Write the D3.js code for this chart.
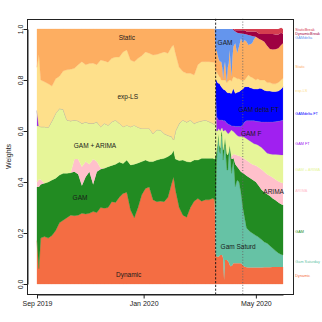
<!DOCTYPE html>
<html><head><meta charset="utf-8">
<script src="https://cdn.jsdelivr.net/npm/d3@7"></script>
<style>
body{margin:0;background:#fff}
svg{display:block}
text{font-family:"Liberation Sans",Arial,Helvetica,sans-serif}
</style>
</head><body>
<svg id="chart" width="322" height="322"></svg>
<script>
// observation index (daily observations, Sep 2019 -> end of May 2020)
const obsIndex = [0,2,4,8,12,16,20,24,28,32,36,40,44,48,52,56,60,64,68,72,76,80,84,88,92,96,100,104,108,112,116,120,124,128,132,136,140,144,146,148,152,156,160,164,168,172,176,180,184,188,190,
191,192,193,194,195,196,197,198,199,200,201,202,203,204,205,206,207,208,209,210,
212,214,216,218,220,222,224,226,228,230,232,234,236,238,240,243,246,249,252,255,258,261,263];

const wDynamic = [.17,.06,.18,.186,.18,.19,.21,.24,.25,.26,.27,.268,.27,.277,.275,.277,.284,.28,.30,.297,.30,.323,.32,.34,.355,.36,.29,.26,.30,.35,.375,.38,.33,.323,.325,.323,.34,.395,.42,.37,.30,.27,.262,.30,.325,.335,.325,.33,.33,.336,.33,
.12,.107,.107,.107,.11,.114,.114,.114,.10,.016,.094,.094,.094,.09,.085,.075,.07,.071,.075,.081,
.081,.081,.081,.081,.075,.068,.066,.065,.065,.065,.065,.065,.065,.065,.065,.066,.066,.066,.067,.067,.067,.067,.067];

const wGamSaturday = [0,0,0,0,0,0,0,0,0,0,0,0,0,0,0,0,0,0,0,0,0,0,0,0,0,0,0,0,0,0,0,0,0,0,0,0,0,0,0,0,0,0,0,0,0,0,0,0,0,0,0,
.18,.379,.433,.471,.41,.398,.466,.466,.386,.504,.471,.406,.353,.357,.415,.463,.41,.363,.385,.405,
.301,.327,.319,.279,.225,.192,.154,.147,.14,.135,.13,.125,.121,.115,.11,.099,.094,.084,.073,.063,.055,.049,.047];

const wGAM = [.21,.32,.21,.209,.22,.218,.205,.187,.184,.174,.166,.172,.16,.108,.145,.163,.106,.16,.15,.157,.16,.142,.15,.138,.118,.126,.177,.21,.175,.13,.111,.10,.15,.163,.165,.17,.16,.115,.105,.12,.184,.216,.218,.178,.161,.151,.168,.163,.163,.157,.16,
.20,.039,.01,.012,.025,.021,.02,.01,.039,.025,.01,.045,.063,.059,.02,.007,.04,.056,.03,.008,
.088,.052,.05,.08,.135,.17,.205,.208,.21,.21,.21,.21,.204,.20,.195,.195,.192,.195,.195,.198,.198,.197,.196];

const wARIMA = [.02,.03,.02,0,0,0,0,0,0,0,0,.05,.06,.075,.06,.03,.10,.04,.005,0,0,0,0,0,0,0,0,0,0,0,0,0,0,0,0,0,0,0,0,0,0,0,0,0,0,0,0,0,0,0,0,
0,0,0,0,0,0,0,0,0,0,0,0,0,0,0,0,0,.01,.015,.016,
.038,.045,.053,.06,.06,.06,.06,.06,.06,.06,.062,.065,.07,.075,.08,.08,.078,.08,.083,.082,.083,.085,.086];

const wGAMARIMA = [.22,.21,.207,.222,.214,.232,.255,.261,.251,.209,.204,.153,.15,.17,.155,.16,.14,.156,.162,.176,.163,.171,.173,.152,.144,.137,.15,.153,.14,.13,.124,.13,.11,.119,.114,.097,.083,.068,.04,.11,.146,.157,.155,.165,.144,.15,.147,.15,.144,.137,.135,
.25,.075,.05,.02,.06,.067,.01,.022,.075,.055,.03,.055,.085,.084,.07,.05,.08,.104,.095,.088,
.082,.077,.075,.078,.083,.085,.085,.085,.085,.085,.083,.083,.085,.085,.085,.085,.083,.085,.09,.098,.104,.108,.11];

const wGAMFT = [.06,0,0,0,0,0,0,0,0,0,0,0,0,0,0,0,0,0,0,0,0,0,0,0,0,0,0,0,0,0,0,0,0,0,0,0,0,0,0,0,0,0,0,0,0,0,0,0,0,0,0,
.01,.056,.05,.033,.038,.043,.033,.031,.04,.04,.035,.035,.035,.038,.035,.03,.023,.016,.02,.022,
.028,.036,.04,.04,.047,.06,.07,.075,.08,.085,.09,.09,.092,.096,.10,.11,.122,.125,.127,.128,.131,.134,.137];

const wGAMdeltaFT = [0,0,0,0,0,0,0,0,0,0,0,0,0,0,0,0,0,0,0,0,0,0,0,0,0,0,0,0,0,0,0,0,0,0,0,0,0,0,0,0,0,0,0,0,0,0,0,0,0,0,0,
.04,.144,.14,.144,.144,.137,.131,.127,.125,.122,.121,.122,.122,.122,.125,.125,.125,.128,.14,.147,
.13,.134,.136,.142,.14,.139,.134,.134,.13,.128,.125,.127,.128,.132,.132,.125,.122,.122,.12,.119,.119,.125,.131];

const wExpLS = [.17,.28,.183,.176,.171,.136,.135,.127,.15,.197,.202,.203,.22,.242,.225,.235,.236,.224,.261,.245,.247,.249,.247,.26,.293,.295,.261,.249,.27,.285,.30,.295,.308,.295,.301,.32,.322,.352,.372,.305,.22,.19,.191,.183,.19,.224,.232,.229,.235,.24,.245,
.03,.035,.035,.033,.026,.03,.026,.03,.035,.038,.039,.04,.038,.045,.047,.05,.052,.047,.045,.046,
.062,.053,.051,.04,.035,.026,.036,.046,.043,.042,.04,.035,.04,.032,.033,.04,.033,.033,.03,.03,.033,.035,.033];

const wStatic = [.15,.10,.20,.207,.215,.224,.195,.185,.165,.16,.158,.154,.14,.128,.14,.135,.134,.14,.122,.125,.13,.115,.11,.11,.09,.082,.122,.128,.115,.105,.09,.095,.102,.10,.095,.09,.095,.07,.063,.095,.15,.167,.174,.174,.18,.14,.128,.128,.128,.13,.13,
.08,.083,.075,.065,.062,.062,.072,.05,0,.05,.072,.033,0,.055,.068,.118,.06,.018,.085,.118,
.134,.10,.126,.163,.145,.157,.14,.117,.127,.134,.155,.17,.16,.16,.157,.15,.144,.132,.135,.136,.135,.137,.137];

const wGAMdelta = [0,0,0,0,0,0,0,0,0,0,0,0,0,0,0,0,0,0,0,0,0,0,0,0,0,0,0,0,0,0,0,0,0,0,0,0,0,0,0,0,0,0,0,0,0,0,0,0,0,0,0,
.09,.082,.10,.115,.125,.128,.128,.15,.20,.15,.128,.17,.21,.15,.135,.082,.14,.187,.11,.065,
.046,.08,.052,.019,.036,.023,.028,.039,.035,.029,.011,0,0,0,0,0,0,0,0,0,0,0,0];

const wDynamicBreak = [0,0,0,0,0,0,0,0,0,0,0,0,0,0,0,0,0,0,0,0,0,0,0,0,0,0,0,0,0,0,0,0,0,0,0,0,0,0,0,0,0,0,0,0,0,0,0,0,0,0,0,
0,0,0,0,0,0,0,0,0,0,0,0,0,0,0,0,0,0,0,.004,
.005,.01,.012,.013,.014,.015,.012,.014,.015,.017,.019,.02,.02,.02,.023,.03,.046,.058,.06,.057,.053,.048,.036];

const wStaticBreak = [0,0,0,0,0,0,0,0,0,0,0,0,0,0,0,0,0,0,0,0,0,0,0,0,0,0,0,0,0,0,0,0,0,0,0,0,0,0,0,0,0,0,0,0,0,0,0,0,0,0,0,
0,0,0,0,0,0,0,0,0,0,0,0,0,0,0,0,0,0,0,0,
.005,.005,.005,.005,.005,.005,.01,.01,.01,.01,.01,.01,.015,.02,.02,.02,.02,.02,.02,.022,.022,.02,.02];

const seriesNames = ["Dynamic","Gam Saturday","GAM","ARIMA","GAM + ARIMA","GAM FT","GAMdelta FT","exp-LS","Static","GAMdelta","DynamicBreak","StaticBreak"];
const seriesValues = [wDynamic,wGamSaturday,wGAM,wARIMA,wGAMARIMA,wGAMFT,wGAMdeltaFT,wExpLS,wStatic,wGAMdelta,wDynamicBreak,wStaticBreak];
const seriesColors = ["#F46D43","#66C2A5","#228B22","#FFC0CB","#E6F598","#A020F0","#0000FF","#FEE08B","#FDAE61","#6495ED","#9E0142","#D53E4F"];
// weight level at which each name is written in the right-hand legend
const legendAt = [0.033,0.087,0.205,0.366,0.447,0.552,0.667,0.758,0.852,0.967,0.983,0.999];

const tickIndex = [0,114,234];
const tickLabels = ["Sep 2019","Jan 2020","May 2020"];
const eventIndex = [191,220];
const yTickValues = [0,0.2,0.4,0.6,0.8,1.0];

// in-plot labels: [text, observation index, weight level]
const areaLabels = [
  ["Static",96,0.967],["exp-LS",97,0.735],["GAM + ARIMA",62,0.541],["GAM",46,0.34],["Dynamic",98,0.038],
  ["GAM",201,0.946],["GAM delta FT",237,0.682],["GAM F",229,0.591],["ARIMA",253,0.362],["Gam Saturd",215,0.146]
];

const nObs = 263;
const svg = d3.select("#chart");
const x = d3.scaleLinear().domain([0,nObs]).range([37,283]);
const y = d3.scaleLinear().domain([0,1]).range([284,29]);

const rows = obsIndex.map((t,i)=>{
  const r = {t};
  seriesNames.forEach((n,k)=>{ r[n] = seriesValues[k][i]; });
  return r;
});
const stacked = d3.stack().keys(seriesNames)(rows);
const area = d3.area().x(d=>x(d.data.t)).y0(d=>y(d[0])).y1(d=>y(d[1]));

const seamed = new Set(["Dynamic","GAM","GAM + ARIMA","exp-LS","Static"]);
const thin = new Set(["GAM FT","GAMdelta FT"]);
svg.append("g").selectAll("path").data(stacked).join("path")
  .attr("d",area)
  .attr("fill",(d,i)=>seriesColors[i])
  .attr("stroke",(d,i)=>thin.has(d.key)?"#8f86a8":(seamed.has(d.key)?seriesColors[i]:"none"))
  .attr("stroke-width",d=>thin.has(d.key)?0.45:0.3)
  .attr("stroke-opacity",d=>thin.has(d.key)?0.5:1);

// event lines
const fx0 = x(-nObs*0.04), fx1 = x(nObs*1.04), fy0 = y(-0.04), fy1 = y(1.04);
svg.append("line").attr("x1",x(eventIndex[0])).attr("x2",x(eventIndex[0]))
  .attr("y1",fy1).attr("y2",fy0).attr("stroke","#111").attr("stroke-width",0.9).attr("stroke-dasharray","2.2,1.6");
svg.append("line").attr("x1",x(eventIndex[1])).attr("x2",x(eventIndex[1]))
  .attr("y1",fy1).attr("y2",fy0).attr("stroke","#666").attr("stroke-width",0.9).attr("stroke-dasharray","1,1.8");

// area labels
svg.append("g").selectAll("text").data(areaLabels).join("text")
  .attr("x",d=>x(d[1])).attr("y",d=>y(d[2])).attr("dy","0.35em")
  .attr("text-anchor","middle").attr("font-size",6.5).attr("fill","#1a1a1a")
  .text(d=>d[0]);

// frame
const px = v=>Math.round(v)+0.5;
svg.append("rect").attr("x",px(fx0)).attr("y",px(fy1))
  .attr("width",Math.round(fx1)-Math.round(fx0)).attr("height",Math.round(fy0)-Math.round(fy1))
  .attr("fill","none").attr("stroke","#222").attr("stroke-width",1);

// y axis
const gy = svg.append("g").attr("transform",`translate(${px(fx0)},0)`)
  .call(d3.axisLeft(y).tickValues(yTickValues).tickFormat(d3.format(".1f")).tickSize(4).tickSizeOuter(0));
gy.select(".domain").attr("stroke","#222");
gy.selectAll(".tick line").attr("stroke","#222");
gy.selectAll(".tick text").attr("x",null).attr("dy",null)
  .attr("transform","translate(-4.8,0) rotate(-90)").attr("text-anchor","middle")
  .attr("font-size",7).attr("fill","#222").attr("font-family",null);

// x axis
const gx = svg.append("g").attr("transform",`translate(0,${px(fy0)})`)
  .call(d3.axisBottom(x).tickValues(tickIndex).tickFormat((d,i)=>tickLabels[i]).tickSize(4).tickSizeOuter(0));
gx.select(".domain").attr("stroke","#222");
gx.selectAll(".tick line").attr("stroke","#222");
gx.selectAll(".tick text").attr("font-size",7).attr("fill","#222").attr("font-family",null);

// y title
svg.append("text").attr("transform",`translate(11,${(fy0+fy1)/2}) rotate(-90)`)
  .attr("text-anchor","middle").attr("font-size",7).attr("fill","#222").text("Weights");

// legend (names at the right)
svg.append("g").selectAll("text").data(seriesNames).join("text")
  .attr("x",fx1+2.5).attr("y",(d,i)=>y(legendAt[i])).attr("dy","0.35em")
  .attr("font-size",3.8).attr("fill",(d,i)=>seriesColors[i]).text(d=>d);
</script>
</body></html>
